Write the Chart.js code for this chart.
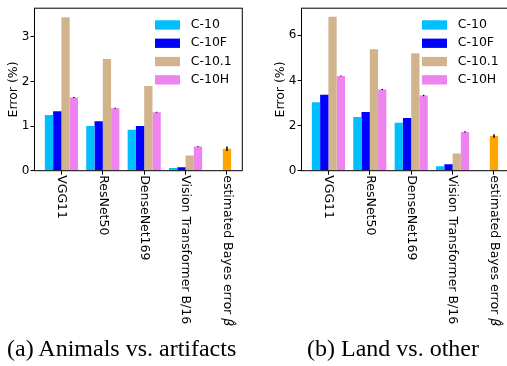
<!DOCTYPE html>
<html>
<head>
<meta charset="utf-8">
<script src="https://cdn.jsdelivr.net/npm/chart.js@4"></script>
<style>
  body { margin: 0; width: 507px; height: 366px; overflow: hidden; background: #fff; position: relative; }
  canvas { position: absolute; top: 0; }
  #chartA { left: 0; }
  #chartB { left: 267px; }
  .cap { position: absolute; top: 336px; font-family: "Liberation Serif", "Times New Roman", serif; font-size: 24px; line-height: 24px; color: #000; white-space: nowrap; }
</style>
</head>
<body>
<canvas id="chartA" width="250" height="340"></canvas>
<canvas id="chartB" width="250" height="340"></canvas>
<div class="cap" style="left:7px">(a) Animals vs. artifacts</div>
<div class="cap" style="left:307px">(b) Land vs. other</div>
<script>
const models = ["VGG11", "ResNet50", "DenseNet169", "Vision Transformer B/16"];
const bayesLabel = "estimated Bayes error";
const seriesNames = ["C-10", "C-10F", "C-10.1", "C-10H"];
const seriesColors = ["#00bfff", "#0000ff", "#d2b48c", "#ee82ee"];
const bayesColor = "#ffa500";

// (a) animals vs artifacts
const animalsC10 = [1.25, 1.00, 0.92, 0.06];
const animalsC10F = [1.33, 1.11, 1.00, 0.08];
const animalsC101 = [3.44, 2.50, 1.90, 0.34];
const animalsC10H = [1.64, 1.40, 1.31, 0.54];
const animalsC10HErr = [0.01, 0.01, 0.01, 0.01];
const animalsBayes = 0.49;
const animalsBayesErr = 0.05;
const animalsTicks = [0, 1, 2, 3];

// (b) land vs other
const landC10 = [3.03, 2.38, 2.12, 0.20];
const landC10F = [3.37, 2.60, 2.33, 0.29];
const landC101 = [6.82, 5.38, 5.20, 0.76];
const landC10H = [4.20, 3.60, 3.33, 1.72];
const landC10HErr = [0.02, 0.02, 0.03, 0.03];
const landBayes = 1.54;
const landBayesErr = 0.08;
const landTicks = [0, 2, 4, 6];

const FONT = "DejaVu Sans";
const LABEL_SIZE = 12.5;

const extras = {
  id: "extras",
  afterDatasetsDraw(chart) {
    const { ctx } = chart;
    // error bars
    ctx.save();
    ctx.strokeStyle = "#000";
    ctx.lineWidth = 1.5;
    chart.data.datasets.forEach((ds, di) => {
      if (!ds.errors) return;
      const meta = chart.getDatasetMeta(di);
      meta.data.forEach((bar, j) => {
        const e = ds.errors[j];
        if (!e) return;
        const v = ds.data[j].y;
        const y = chart.scales.y;
        ctx.beginPath();
        ctx.moveTo(bar.x, y.getPixelForValue(v - e));
        ctx.lineTo(bar.x, y.getPixelForValue(v + e));
        ctx.stroke();
      });
    });
    ctx.restore();
  },
  afterDraw(chart) {
    const { ctx, chartArea: a } = chart;
    const x = chart.scales.x;
    ctx.save();
    // frame
    ctx.strokeStyle = "#000";
    ctx.lineWidth = 1;
    ctx.strokeRect(a.left, a.top, a.right - a.left, a.bottom - a.top);

    // legend
    ctx.font = LABEL_SIZE + "px '" + FONT + "'";
    ctx.textBaseline = "middle";
    ctx.textAlign = "left";
    seriesNames.forEach((name, i) => {
      const cy = a.top + 16.7 + i * 18.3;
      ctx.fillStyle = seriesColors[i];
      ctx.fillRect(a.right - 87.3, cy - 4.6, 25, 9.3);
      ctx.fillStyle = "#000";
      ctx.fillText(name, a.right - 51.6, cy);
    });

    // rotated category labels
    const labels = models.concat([bayesLabel]);
    labels.forEach((t, i) => {
      ctx.save();
      ctx.translate(x.getPixelForValue(i), a.bottom + 4.5);
      ctx.rotate(Math.PI / 2);
      ctx.font = LABEL_SIZE + "px '" + FONT + "'";
      ctx.fillStyle = "#000";
      ctx.fillText(t, 0, 0);
      if (i === models.length) {
        const w = ctx.measureText(t + " ").width;
        ctx.font = "italic " + LABEL_SIZE + "px '" + FONT + "'";
        ctx.fillText("\u03b2\u0302", w, 0);
      }
      ctx.restore();
    });
    ctx.restore();
  }
};

function makeChart(id, c10, c10f, c101, c10h, c10hErr, bayes, bayesErr, yMax, yTicks) {
  const series = [c10, c10f, c101, c10h];
  const datasets = series.map((vals, k) => ({
    label: seriesNames[k],
    data: vals.map((v, i) => ({ x: i, y: v })),
    backgroundColor: seriesColors[k],
    categoryPercentage: 0.8,
    barPercentage: 1,
    errors: k === 3 ? c10hErr : null
  }));
  datasets.push({
    label: bayesLabel,
    data: [{ x: models.length, y: bayes }],
    backgroundColor: bayesColor,
    grouped: false,
    categoryPercentage: 0.8,
    barPercentage: 0.25,
    errors: [bayesErr]
  });

  new Chart(document.getElementById(id), {
    type: "bar",
    data: { datasets },
    plugins: [extras],
    options: {
      responsive: false,
      animation: false,
      layout: { padding: { left: 0, top: 5, right: 7.7, bottom: 165.3 } },
      plugins: { legend: { display: false }, tooltip: { enabled: false } },
      scales: {
        x: {
          type: "linear",
          min: -0.65,
          max: 4.37,
          offset: false,
          afterBuildTicks: (ax) => { ax.ticks = [0, 1, 2, 3, 4].map((v) => ({ value: v })); },
          ticks: { display: false },
          grid: { offset: false, drawOnChartArea: false, drawTicks: true, tickLength: 4, color: "#000" },
          border: { display: false }
        },
        y: {
          min: 0,
          max: yMax,
          afterBuildTicks: (ax) => { ax.ticks = yTicks.map((v) => ({ value: v })); },
          afterFit: (ax) => { ax.width = 34.5; },
          ticks: { padding: 1, color: "#000", font: { family: FONT, size: 12 } },
          grid: { drawOnChartArea: false, tickLength: 4, color: "#000" },
          border: { display: false },
          title: {
            display: true,
            text: "Error (%)",
            color: "#000",
            font: { family: FONT, size: 12.5 },
            padding: { top: 6, bottom: 0 }
          }
        }
      }
    }
  });
}

makeChart("chartA", animalsC10, animalsC10F, animalsC101, animalsC10H, animalsC10HErr,
  animalsBayes, animalsBayesErr, 3.64, animalsTicks);
makeChart("chartB", landC10, landC10F, landC101, landC10H, landC10HErr,
  landBayes, landBayesErr, 7.2, landTicks);
</script>
</body>
</html>
